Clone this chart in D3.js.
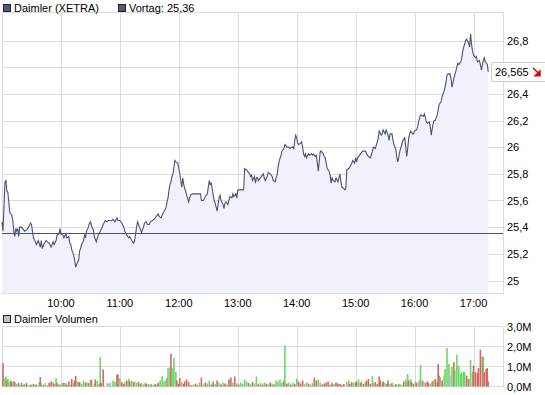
<!DOCTYPE html>
<html>
<head>
<meta charset="utf-8">
<script src="https://cdn.jsdelivr.net/npm/d3@7"></script>
<style>
  body { margin: 0; background: #fff; }
  svg text { font-family: "Liberation Sans", Arial, sans-serif; font-size: 11px; fill: #000; }
</style>
</head>
<body>
<svg id="chart" width="545" height="395"></svg>
<script>
// minutes after 9:00 and last price (XETRA, EUR)
var priceMin = [0,1,3,4,5,6,7,8,10,11,12,13,14,15,16,17,18,20,22,23,25,27,29,30,31,32,34,35,37,39,40,41,43,45,46,48,50,52,53,55,56,58,59,60,62,63,65,66,68,69,70,71,73,74,75,77,78,79,80,81,83,84,85,86,88,89,90,92,93,94,96,97,98,100,102,103,105,107,108,110,112,113,115,117,118,120,
  122,124,125,127,129,130,132,134,135,136,137,138,139,141,142,144,145,147,148,150,151,153,155,157,158,159,160,162,163,165,166,167,168,169,170,171,172,173,174,175,176,177,179,180,181,182,183,184,185,186,187,188,190,191,192,194,197,200,202,203,204,205,207,208,209,210,211,212,213,214,215,216,217,218,219,220,221,222,223,225,226,227,228,230,231,232,234,235,236,238,239,240,242,246,
  247,249,250,252,253,254,255,257,258,259,260,261,263,265,266,267,268,270,271,273,275,276,278,279,280,281,282,284,285,287,288,290,292,293,295,296,297,298,299,300,301,302,304,305,306,307,308,309,310,312,313,315,316,317,319,320,321,322,323,324,325,327,328,329,330,331,333,334,335,336,337,339,340,342,343,344,345,346,348,349,350,351,353,354,356,357,359,360,361,362,364,365,367,369,
  370,372,373,375,377,378,380,382,383,384,386,387,388,390,391,393,394,395,397,398,399,401,402,403,404,405,407,408,410,411,412,413,414,415,416,418,419,420,422,423,424,426,427,429,430,431,432,433,435,436,437,438,439,440,441,443,444,445,447,448,450,451,452,453,454,456,457,458,459,460,462,463,464,465,467,468,469,470,472,473,475,476,477,478,479,480,482,483,484,486,487,488,490,491,492,494,495];
var priceVal = [25.44,25.37,25.74,25.75,25.67,25.66,25.58,25.51,25.49,25.45,25.37,25.33,25.39,25.37,25.39,25.33,25.40,25.40,25.38,25.37,25.38,25.40,25.43,25.42,25.37,25.32,25.29,25.27,25.30,25.25,25.30,25.24,25.28,25.30,25.29,25.28,25.25,25.29,25.27,25.30,25.34,25.35,25.39,25.35,25.34,25.32,25.35,25.32,25.33,25.28,25.27,25.23,25.19,25.15,25.10,25.14,25.15,25.22,25.24,25.27,25.30,25.34,25.32,25.37,25.40,25.43,25.44,25.39,25.38,25.33,25.29,25.32,25.34,25.37,25.40,25.42,25.45,25.44,25.45,25.45,25.45,25.46,25.44,25.47,25.45,25.45,
  25.43,25.40,25.37,25.34,25.32,25.33,25.30,25.28,25.30,25.35,25.40,25.44,25.42,25.38,25.36,25.40,25.43,25.44,25.42,25.42,25.44,25.45,25.46,25.48,25.49,25.50,25.48,25.47,25.49,25.52,25.53,25.55,25.59,25.62,25.68,25.72,25.74,25.78,25.80,25.85,25.90,25.89,25.88,25.84,25.80,25.75,25.70,25.77,25.72,25.69,25.67,25.64,25.59,25.62,25.64,25.65,25.65,25.65,25.65,25.60,25.60,25.60,25.63,25.64,25.65,25.70,25.75,25.72,25.73,25.69,25.64,25.60,25.58,25.55,25.52,25.57,25.62,25.64,25.60,25.57,25.54,25.58,25.59,25.57,25.60,25.63,25.62,25.65,25.63,25.65,25.62,25.68,25.68,25.68,
  25.84,25.83,25.82,25.80,25.78,25.79,25.75,25.78,25.73,25.77,25.77,25.75,25.77,25.79,25.80,25.77,25.75,25.78,25.81,25.80,25.78,25.75,25.74,25.77,25.79,25.85,25.89,25.94,25.97,25.99,26.02,26.00,26.00,25.99,26.00,26.00,25.99,26.05,26.09,26.07,26.03,26.02,26.03,26.04,26.00,25.95,25.93,25.95,25.92,25.95,25.94,25.95,25.94,25.95,25.93,25.94,25.88,25.82,25.90,25.97,25.97,25.95,25.93,25.92,25.88,25.84,25.82,25.79,25.73,25.77,25.75,25.74,25.77,25.74,25.77,25.80,25.74,25.70,25.69,25.68,25.69,25.83,25.84,25.85,25.88,25.90,25.88,25.92,25.89,25.92,25.94,25.95,25.97,25.97,
  25.97,25.94,25.93,25.92,25.97,26.00,25.99,26.04,26.07,26.12,26.09,26.10,26.13,26.10,26.13,26.09,26.05,26.10,26.10,26.05,26.02,25.98,25.92,25.89,25.93,25.97,26.02,26.05,26.07,26.00,25.93,25.99,26.07,26.10,26.12,26.10,26.10,26.12,26.13,26.15,26.19,26.24,26.24,26.23,26.25,26.22,26.19,26.18,26.19,26.15,26.09,26.14,26.18,26.20,26.20,26.24,26.28,26.32,26.34,26.38,26.42,26.45,26.49,26.54,26.55,26.55,26.52,26.45,26.48,26.52,26.57,26.60,26.63,26.62,26.64,26.67,26.72,26.75,26.80,26.81,26.78,26.75,26.85,26.77,26.72,26.69,26.67,26.68,26.64,26.65,26.62,26.58,26.65,26.67,26.64,26.62,26.565];

var prevClose = 25.36;
var lastPrice = 26.565;

// volume bars: minute after 9:00, millions of shares, direction (u up, d down, n unchanged)
var volMin = [1,3,4,5,6,7,9,10,12,13,15,17,18,20,22,23,25,27,29,30,32,34,35,38,39,40,42,44,46,48,50,52,53,55,56,58,60,61,63,65,66,68,70,71,73,74,75,77,78,79,81,83,85,86,88,90,91,94,95,97,99,100,101,103,107,108,110,113,115,117,118,120,122,124,125,127,129,130,132,134,135,137,139,141,142,144,146,147,149,151,152,154,156,158,159,161,163,164,166,168,169,171,172,174,175,177,178,180,181,183,185,186,188,190,192,193,
  195,197,199,201,203,205,207,209,211,213,215,217,219,221,223,225,227,229,231,233,235,237,239,241,243,245,247,249,251,253,255,257,259,261,263,265,267,269,271,273,275,277,279,281,283,285,287,288,290,292,294,296,298,300,302,304,306,308,310,312,314,316,318,320,322,324,326,328,330,332,334,336,338,340,342,
  344,346,348,351,353,354,356,358,360,361,363,365,366,368,370,371,373,375,377,378,380,382,384,385,387,388,390,392,393,395,397,399,401,402,404,405,407,409,411,412,413,414,416,417,419,421,422,424,425,426,428,429,431,433,434,436,438,439,441,443,444,445,446,448,450,451,453,455,456,458,460,461,463,465,467,468,470,471,473,475,477,479,480,482,484,485,487,489,490,491,493,494,495];
var volM = [1.17,.42,.5,.3,.38,.22,.3,.22,.28,.22,.13,.18,.08,.18,.08,.13,.17,.08,.08,.1,.13,.08,.1,.22,.47,.18,.08,.17,.05,.18,.25,.22,.13,.42,.18,.13,.08,.18,.18,.17,.08,.25,.08,.38,.18,.3,.53,.25,.22,.22,.13,.3,.18,.22,.17,.3,.35,.13,.35,.28,.13,1.47,.18,.85,.17,.13,.18,.3,.22,.6,.6,.42,.22,.13,.22,.3,.38,.25,.3,.22,.25,.18,.22,.13,.18,.1,.17,.13,.13,.1,.13,.08,.13,.1,.18,.3,.52,.22,.3,.42,.92,.97,1.63,.92,1.43,.72,.3,.13,.42,.22,.13,.25,.35,.22,.08,.05,
  .1,.15,.08,.2,.45,.1,.2,.15,.3,.1,.25,.12,.3,.18,.1,.2,.15,.1,.35,.45,.2,.5,.15,.1,.2,.12,.35,.25,.18,.1,.22,.15,.5,.12,.18,.1,.2,.15,.1,.2,.15,.1,.3,.25,.35,.2,.3,2.05,.15,.2,.1,.18,.12,.4,.25,.15,.3,.12,.2,.15,.1,.18,.45,.3,.35,.2,.1,.15,.2,.25,.1,.18,.12,.2,.15,
  .13,.08,.13,.22,.3,.13,.22,.18,.22,.25,.35,.18,.25,.13,.22,.3,.38,.13,.52,.18,.22,.13,.5,.3,.18,.25,.18,.13,.3,.13,.18,.08,.13,.08,.13,.13,.08,.25,.35,.18,.63,.3,.38,.22,.13,.25,.18,.25,.3,1.08,.3,.25,.18,.25,.18,.13,.25,.3,.38,.22,1.13,.55,.47,.3,.55,.88,1.92,1.13,.55,.97,1.22,.8,1.58,1.05,.63,.72,.75,.72,.55,.38,1.33,.72,1.05,.72,.67,.92,1.85,1.5,1.47,.72,.88,.92,.25];
var volDir = ["d","u","u","d","u","u","d","d","u","d","u","d","u","d","d","u","d","u","d","u","d","u","d","u","d","u","d","u","d","d","d","u","d","u","d","u","d","u","d","u","d","d","u","d","u","d","d","u","u","d","u","u","d","u","d","u","d","u","d","u","d","u","d","d","n","n","u","u","u","d","d","u","d","d","u","d","u","d","u","d","u","u","d","d","u","u","d","d","u","d","u","u","d","u","d","u","u","u","u","d","u","u","d","u","u","u","d","d","d","u","d","d","d","d","u","d",
  "u","d","d","u","d","u","d","u","u","d","d","u","d","u","d","u","d","u","d","d","u","d","u","d","u","u","u","u","d","u","d","u","u","d","u","d","u","d","u","d","u","d","u","u","u","u","d","u","d","u","d","u","d","u","d","d","d","n","u","d","u","u","d","d","u","u","d","d","d","d","u","d","u","d","d",
  "d","d","d","u","u","d","d","u","d","d","u","d","u","d","u","d","d","d","u","u","d","d","d","d","u","d","u","d","d","u","d","u","d","u","u","u","u","d","u","u","u","d","u","d","d","u","d","n","u","u","d","n","d","d","d","u","d","u","d","d","d","d","u","d","n","u","u","u","n","u","d","u","u","u","u","u","u","u","d","d","u","u","d","d","d","d","d","d","u","d","d","d","d"];

var hourLabels = ["10:00","11:00","12:00","13:00","14:00","15:00","16:00","17:00"];
var hourMin = [60,120,180,240,300,360,420,480];
var priceTicks = [25,25.2,25.4,25.6,25.8,26,26.2,26.4,26.6,26.8];
var volTicks = [0,1,2,3];

var left = 2, right = 503, pTop = 12, pBottom = 293, vTop = 327, vBottom = 387;
var gridColor = "#dcdcdc", lineColor = "#4b5373";

var svg = d3.select("#chart");

var x = d3.scaleLinear().domain([0, 510]).range([left, right]);
var y = d3.scaleLinear().domain([25, 26.8]).range([280.5, 40.5]);
var yv = d3.scaleLinear().domain([0, 3]).range([vBottom - 0.5, vTop - 0.5]);

function de(v) { return String(+v.toFixed(2)).replace(".", ","); }

// ---- price panel grid
var g = svg.append("g").attr("shape-rendering", "crispEdges");
g.selectAll(".hg").data(priceTicks).enter().append("line")
  .attr("x1", left).attr("x2", right)
  .attr("y1", function(d) { return Math.round(y(d)) + 0.5; })
  .attr("y2", function(d) { return Math.round(y(d)) + 0.5; })
  .attr("stroke", gridColor);
g.selectAll(".vg").data(hourMin).enter().append("line")
  .attr("x1", function(d) { return Math.round(x(d)) + 0.5; })
  .attr("x2", function(d) { return Math.round(x(d)) + 0.5; })
  .attr("y1", pTop).attr("y2", pBottom)
  .attr("stroke", gridColor);

// area + line
var pts = priceMin.map(function(m, i) { return [m, priceVal[i]]; });
svg.append("path").datum(pts)
  .attr("d", d3.area().x(function(d) { return x(d[0]); }).y0(pBottom).y1(function(d) { return y(d[1]); }))
  .attr("fill", "#f1f1fc");

g.append("rect").attr("x", left + 0.5).attr("y", pTop + 0.5)
  .attr("width", right - left).attr("height", pBottom - pTop)
  .attr("fill", "none").attr("stroke", gridColor);

svg.append("path").datum(pts)
  .attr("d", d3.line().x(function(d) { return x(d[0]); }).y(function(d) { return y(d[1]); }))
  .attr("fill", "none").attr("stroke", lineColor).attr("stroke-width", 1.1);

// previous close
svg.append("line").attr("shape-rendering", "crispEdges")
  .attr("x1", left).attr("x2", right)
  .attr("y1", Math.round(y(prevClose)) + 0.5).attr("y2", Math.round(y(prevClose)) + 0.5)
  .attr("stroke", lineColor);

// y labels
svg.selectAll(".pl").data(priceTicks.filter(function(d) { return d !== 26.6; })).enter().append("text")
  .attr("x", 507).attr("y", function(d) { return y(d) + 4; })
  .text(de);

// x labels
svg.selectAll(".xl").data(hourMin).enter().append("text")
  .attr("x", function(d) { return x(d); }).attr("y", 307)
  .attr("text-anchor", "middle")
  .text(function(d, i) { return hourLabels[i]; });

// last price box
var ly = y(lastPrice);
svg.append("rect").attr("x", 491.5).attr("y", Math.round(ly) - 9.5)
  .attr("width", 60).attr("height", 19)
  .attr("fill", "#fff").attr("stroke", "#cccccc");
svg.append("text").attr("x", 495).attr("y", ly + 4).text(de(lastPrice).replace("26,57", "26,565"));
svg.append("path")
  .attr("d", "M533," + (ly - 4) + "L539," + (ly + 2) + "M540," + (ly - 1) + "L540," + (ly + 4) + "L535," + (ly + 4) + "Z")
  .attr("stroke", "#e00000").attr("stroke-width", 1.4).attr("fill", "#e00000");

// legends
function legend(xp, yp, fill, label) {
  svg.append("rect").attr("x", xp + 0.5).attr("y", yp + 0.5).attr("width", 7).attr("height", 7)
    .attr("fill", fill).attr("stroke", "#222").attr("shape-rendering", "crispEdges");
  svg.append("text").attr("x", xp + 11).attr("y", yp + 8).text(label);
}
legend(3, 4, "#525a72", "Daimler (XETRA)");
legend(118, 4, "#525a72", "Vortag: " + de(prevClose));
legend(3, 315, "#c0c0c0", "Daimler Volumen");

// ---- volume panel
var gv = svg.append("g").attr("shape-rendering", "crispEdges");
gv.selectAll(".vh").data(volTicks).enter().append("line")
  .attr("x1", left).attr("x2", right)
  .attr("y1", function(d) { return yv(d); }).attr("y2", function(d) { return yv(d); })
  .attr("stroke", gridColor);
gv.selectAll(".vv").data(hourMin).enter().append("line")
  .attr("x1", function(d) { return Math.round(x(d)) + 0.5; })
  .attr("x2", function(d) { return Math.round(x(d)) + 0.5; })
  .attr("y1", vTop).attr("y2", vBottom)
  .attr("stroke", gridColor);
gv.append("line").attr("x1", left + 0.5).attr("x2", left + 0.5).attr("y1", vTop).attr("y2", vBottom).attr("stroke", gridColor);
gv.append("line").attr("x1", right + 0.5).attr("x2", right + 0.5).attr("y1", vTop).attr("y2", vBottom).attr("stroke", gridColor);

var dirColor = { u: "#66d966", d: "#dc6464", n: "#b8b8b8" };
svg.selectAll(".vb").data(volMin).enter().append("rect")
  .attr("x", function(d) { return x(d) - 0.8; })
  .attr("width", 1.6)
  .attr("y", function(d, i) { return yv(volM[i]); })
  .attr("height", function(d, i) { return yv(0) - yv(volM[i]); })
  .attr("fill", function(d, i) { return dirColor[volDir[i]]; });

svg.selectAll(".vl").data(volTicks).enter().append("text")
  .attr("x", 507).attr("y", function(d) { return yv(d) + 4; })
  .text(function(d) { return d + ",0M"; });
</script>
</body>
</html>
